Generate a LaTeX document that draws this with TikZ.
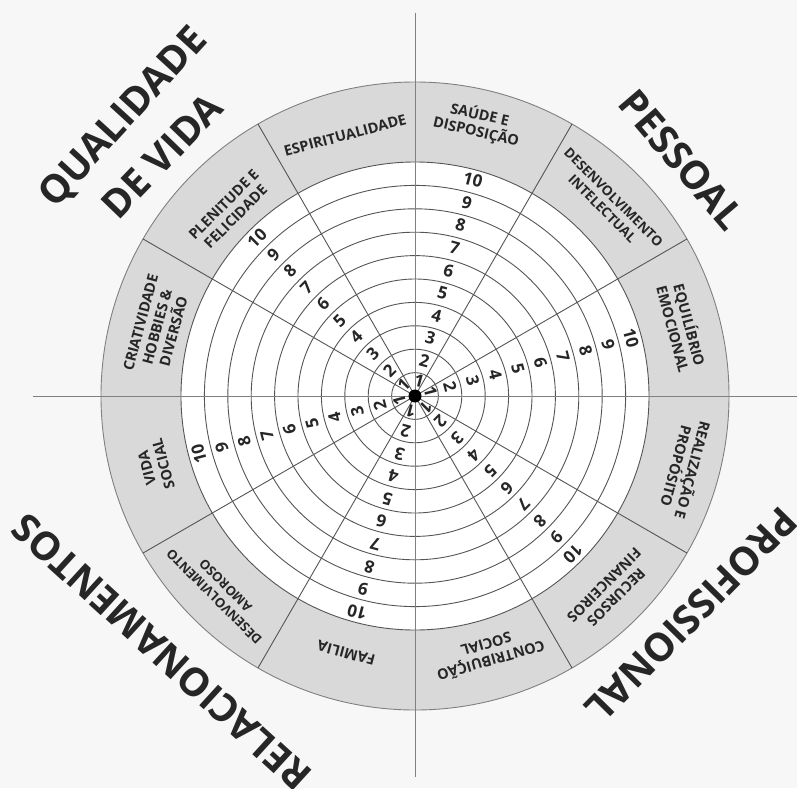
\documentclass[tikz,border=0pt]{standalone}
\usepackage{fontspec}
\setmainfont{Open Sans}
\definecolor{paper}{HTML}{F7F7F7}
\definecolor{ringgrey}{HTML}{D9D9D9}
\definecolor{inkgrey}{HTML}{262626}
\definecolor{linegrey}{HTML}{555555}
\begin{document}
\begin{tikzpicture}[x=1pt,y=1pt,
		ring/.style={font=\bfseries\fontsize{14.5}{17}\selectfont, align=center, inner sep=0pt, text=inkgrey},
		num/.style={font=\bfseries\fontsize{17}{17}\selectfont, inner sep=0pt, text=inkgrey},
		area/.style={font=\bfseries\fontsize{39}{40}\selectfont, inner sep=0pt, text=inkgrey},
		grid/.style={linegrey, line width=0.9pt}]
		\fill[paper] (-415,-392) rectangle (382,396);
		\useasboundingbox (-415,-392) rectangle (382,396);
		% wheel
		\fill[ringgrey] (0,0) circle (314);
		\fill[white] (0,0) circle (234);
		\draw[grid, gray] (0,0) circle (314);
		\foreach \k in {1,...,10}
			\draw[grid] (0,0) circle ({23.4*\k});
		\foreach \a in {30,60,120,150,210,240,300,330}
			\draw[grid] (0,0) -- (\a:314);
		\draw[grid, gray] (0,383) -- (0,-381);
		\draw[grid, gray] (-382,0) -- (382,0);
		\fill[black] (0,0) circle (6.5);
		% scale
		\foreach \a in {15,75,135,195,255,315}
			\foreach \k in {1,...,10}{
				\pgfmathsetmacro\r{\k==1 ? 16 : 23.4*\k-10.5}
				\node[num, rotate=\a-90] (n-\a-\k) at (\a:\r) {\k};
			}
		% sectors
		\node[ring, rotate=15] (espiritualidade) at (105:270) {ESPIRITUALIDADE};
		\node[ring, rotate=-13] (saude) at (77:280) {SAÚDE E\\DISPOSIÇÃO};
		\node[ring, rotate=-45, font=\bfseries\fontsize{13.5}{16}\selectfont] (intelectual) at (45:273) {DESENVOLVIMENTO\\INTELECTUAL};
		\node[ring, rotate=-75] (emocional) at (14.5:276) {EQUILÍBRIO\\EMOCIONAL};
		\node[ring, rotate=-105] (proposito) at (-15:280) {REALIZAÇÃO E\\PROPÓSITO};
		\node[ring, rotate=-135] (financeiros) at (-45:276) {RECURSOS\\FINANCEIROS};
		\node[ring, rotate=-164] (contribuicao) at (-74:268) {CONTRIBUIÇÃO\\SOCIAL};
		\node[ring, rotate=165] (familia) at (-105:266) {FAMILIA};
		\node[ring, rotate=135, font=\bfseries\fontsize{13}{16}\selectfont] (amoroso) at (-135:276) {DESENVOLVIMENTO\\AMOROSO};
		\node[ring, rotate=105] (social) at (-165:269) {VIDA\\SOCIAL};
		\node[ring, rotate=75] (criatividade) at (165:267) {CRIATIVIDADE\\HOBBIES \&\\DIVERSÃO};
		\node[ring, rotate=45] (plenitude) at (135:262) {PLENITUDE E\\FELICIDADE};
		% areas
		\node[area, rotate=47.6] (qualidade) at (-291,278) {QUALIDADE};
		\node[area, rotate=46] (devida) at (-253,240) {DE VIDA};
		\node[area, rotate=-49.6] (pessoal) at (266.5,236) {PESSOAL};
		\node[area, rotate=-134.5] (profissional) at (276,-219) {PROFISSIONAL};
		\node[area, rotate=137.6] (relacionamentos) at (-253.5,-256) {RELACIONAMENTOS};
\end{tikzpicture}
\end{document}
